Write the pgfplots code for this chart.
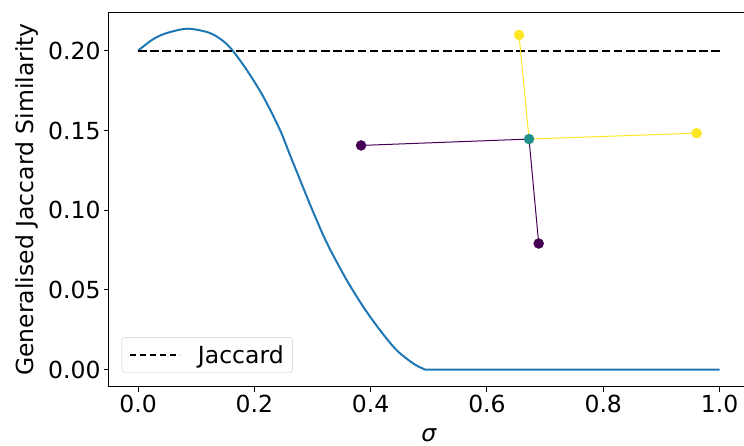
\documentclass[border=0pt]{standalone}
\usepackage{pgfplots}
\pgfplotsset{compat=1.18}
\usepackage{fontspec}
\setmainfont{DejaVu Sans}

\definecolor{mplblue}{HTML}{1F77B4}
\definecolor{vpurple}{HTML}{440154}
\definecolor{vteal}{HTML}{21918C}
\definecolor{vyellow}{HTML}{FDE725}
\definecolor{leggray}{HTML}{CCCCCC}

\begin{document}
\begin{tikzpicture}
	\begin{axis}[
		name=ax,
		scale only axis,
		width=639.6pt, height=374.4pt,
		xmin=-0.05, xmax=1.05,
		ymin=-0.0107, ymax=0.2241,
		xtick={0,0.2,0.4,0.6,0.8,1.0},
		ytick={0,0.05,0.1,0.15,0.2},
		xticklabel style={/pgf/number format/.cd, fixed, fixed zerofill, precision=1},
		yticklabel style={/pgf/number format/.cd, fixed, fixed zerofill, precision=2},
		/pgf/number format/assume math mode=true,
		tick label style={font=\fontsize{23.5}{28}\selectfont, text=black},
		tick align=outside,
		major tick length=5pt,
		tick style={black, line width=1pt},
		axis line style={black, line width=1pt},
		xtick pos=bottom, ytick pos=left,
		ylabel={Generalised Jaccard Similarity},
		xlabel={\itshape σ},
		label style={font=\fontsize{23.5}{28}\selectfont},
		ylabel style={at={(axis description cs:-0.128,0.5)}, anchor=center},
		xlabel style={at={(axis description cs:0.5,-0.129)}, anchor=center, inner sep=0pt},
		legend style={
			at={(axis description cs:0.0199,0.0366)}, anchor=south west,
			draw=leggray, rounded corners=3pt, fill=white, fill opacity=0.8, text opacity=1,
			font=\fontsize{23.5}{28}\selectfont,
			inner xsep=7pt, inner ysep=6pt,
		},
		legend cell align=left,
	]
	% similarity curve
	\addplot[mplblue, line width=2pt, smooth, forget plot] coordinates {
		(0,0.2) (0.0241,0.2068) (0.047,0.2108) (0.0843,0.2138) (0.1215,0.2114)
		(0.1445,0.2066) (0.1617,0.2005) (0.187,0.1879) (0.2155,0.1711) (0.2442,0.1502)
		(0.2614,0.1345) (0.2786,0.1190) (0.2958,0.1035) (0.3187,0.0840) (0.33,0.0755)
		(0.3589,0.0561) (0.3875,0.0393) (0.4162,0.0247) (0.4449,0.0121) (0.4735,0.0038)
		(0.4906,0.0006) (0.502,0) (0.6,0) (0.8,0) (1.0,0)
	};
	% Jaccard reference
	\addplot[black, line width=2pt, dash pattern=on 8.5pt off 3.7pt,
		legend image code/.code={\draw[black, line width=2pt, dash pattern=on 6pt off 4pt] (0pt,0pt) -- (50pt,0pt);}]
		coordinates {(0,0.2) (1,0.2)};
	\addlegendentry{\hspace{15pt}Jaccard}
	% connections
	\addplot[vpurple, line width=1pt, forget plot] coordinates {(0.3835,0.1406) (0.6724,0.1446) (0.689,0.0791)};
	\addplot[vyellow, line width=1pt, forget plot] coordinates {(0.6552,0.2099) (0.6724,0.1446) (0.9607,0.1483)};
	% points
	\addplot[only marks, mark=*, mark size=5pt, vpurple, forget plot] coordinates {(0.3835,0.1406) (0.689,0.0791)};
	\addplot[only marks, mark=*, mark size=5pt, vyellow, forget plot] coordinates {(0.6552,0.2099) (0.9607,0.1483)};
	\addplot[only marks, mark=*, mark size=5pt, vteal, forget plot] coordinates {(0.6724,0.1446)};
	\end{axis}
	\pgfresetboundingbox
	\path ([xshift=-109pt, yshift=-59.3pt]ax.south west) rectangle ([xshift=-4.6pt, yshift=12.3pt]ax.north east);
\end{tikzpicture}
\end{document}
